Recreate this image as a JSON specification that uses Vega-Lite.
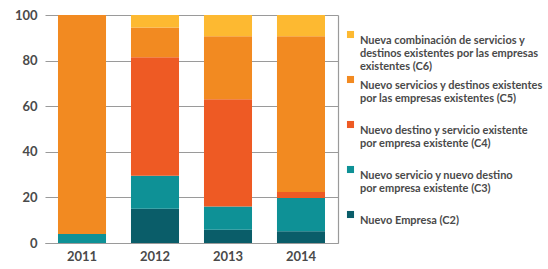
{
  "$schema": "https://vega.github.io/schema/vega-lite/v6.json",
  "autosize": "none",
  "width": 293,
  "height": 228,
  "padding": {"left": 45, "top": 15, "right": 210, "bottom": 26},
  "background": "white",
  "config": {
    "view": {"stroke": null},
    "font": "Lato",
    "axis": {"labelFont": "Lato", "labelFontWeight": "bold", "labelColor": "#4a4a4a", "labelFontSize": 13}
  },
  "data": {
    "values": [
      {"year": "2011", "c": "C2", "v": 0},
      {"year": "2011", "c": "C3", "v": 4},
      {"year": "2011", "c": "C4", "v": 0},
      {"year": "2011", "c": "C5", "v": 96},
      {"year": "2011", "c": "C6", "v": 0},
      {"year": "2012", "c": "C2", "v": 15},
      {"year": "2012", "c": "C3", "v": 14.5},
      {"year": "2012", "c": "C4", "v": 52},
      {"year": "2012", "c": "C5", "v": 13},
      {"year": "2012", "c": "C6", "v": 5.5},
      {"year": "2013", "c": "C2", "v": 5.8},
      {"year": "2013", "c": "C3", "v": 10.2},
      {"year": "2013", "c": "C4", "v": 47},
      {"year": "2013", "c": "C5", "v": 27.7},
      {"year": "2013", "c": "C6", "v": 9.3},
      {"year": "2014", "c": "C2", "v": 5.2},
      {"year": "2014", "c": "C3", "v": 14.5},
      {"year": "2014", "c": "C4", "v": 2.7},
      {"year": "2014", "c": "C5", "v": 68.3},
      {"year": "2014", "c": "C6", "v": 9.3}
    ]
  },
  "encoding": {
    "x": {
      "field": "year", "type": "nominal",
      "scale": {"paddingInner": 0.342, "paddingOuter": 0.178},
      "axis": {"title": null, "labelAngle": 0, "ticks": false, "labelPadding": 7, "domainColor": "#9a9a9a", "domainWidth": 1.2}
    }
  },
  "layer": [
    {
      "mark": {"type": "bar"},
      "encoding": {
        "y": {
          "field": "v", "type": "quantitative", "stack": "zero",
          "scale": {"domain": [0, 100], "nice": false},
          "axis": {"title": null, "values": [0, 20, 40, 60, 80, 100], "ticks": false, "domain": false, "labelPadding": 8, "gridColor": "#9a9a9a", "gridWidth": 1}
        },
        "color": {
          "field": "c", "type": "nominal",
          "scale": {"domain": ["C6", "C5", "C4", "C3", "C2"], "range": ["#FDB931", "#F28A21", "#EE5A24", "#0E9196", "#0A5D69"]},
          "legend": {
            "title": null,
            "orient": "none",
            "legendX": 300,
            "legendY": 14,
            "symbolType": "square",
            "symbolSize": 50,
            "symbolStrokeWidth": 0,
            "labelFont": "Lato",
            "labelFontWeight": "bold",
            "labelFontSize": 11,
            "labelColor": "#4a4a4a",
            "labelLimit": 260,
            "labelBaseline": "top",
            "labelOffset": 4,
            "rowPadding": 2,
            "labelExpr": "datum.value == 'C6' ? ['Nueva combinación de servicios y', 'destinos existentes por las empresas', 'existentes (C6)'] : datum.value == 'C5' ? ['Nuevo servicios y destinos existentes', 'por las empresas existentes (C5)', ''] : datum.value == 'C4' ? ['Nuevo destino y servicio existente', 'por empresa existente (C4)', ''] : datum.value == 'C3' ? ['Nuevo servicio y nuevo destino', 'por empresa existente (C3)', ''] : 'Nuevo Empresa (C2)'"
          }
        },
        "order": {"field": "c", "sort": "ascending"}
      }
    },
    {
      "mark": {"type": "bar", "opacity": 0},
      "encoding": {
        "y": {
          "field": "v", "type": "quantitative", "aggregate": "sum",
          "scale": {"domain": [0, 100], "nice": false},
          "axis": {"orient": "right", "title": null, "labels": false, "ticks": false, "grid": false, "domainColor": "#9a9a9a", "domainWidth": 1.2}
        }
      }
    }
  ],
  "resolve": {"axis": {"y": "independent"}}
}
